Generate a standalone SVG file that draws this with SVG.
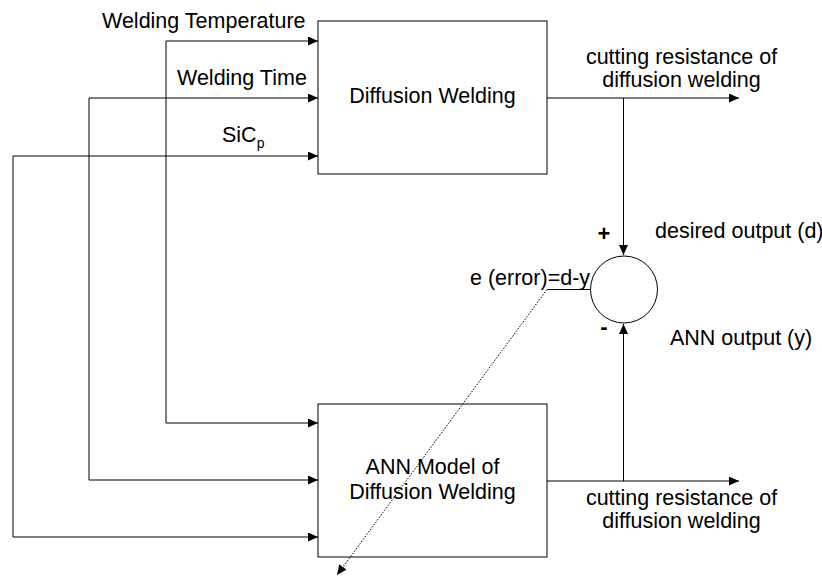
<svg xmlns="http://www.w3.org/2000/svg" width="822" height="577" viewBox="0 0 822 577">
<style>
text{font-family:"Liberation Sans",Arial,sans-serif;font-size:21.5px;fill:#000}
.mid{text-anchor:middle}
.sign{font-weight:bold;font-size:22px}
.box{fill:#fff;stroke:#000;stroke-width:1}
.ln{fill:none;stroke:#000;stroke-width:1}
.dot{fill:none;stroke:#000;stroke-width:1;stroke-dasharray:1.5 1.5}
</style>
<defs>
<marker id="arr" markerUnits="userSpaceOnUse" markerWidth="10" markerHeight="9" refX="10" refY="4.5" orient="auto">
<path d="M0,0 L10,4.5 L0,9 z" fill="#000"/>
</marker>
</defs>
<rect width="822" height="577" fill="#fff"/>
<g id="diffusion-welding">
<rect class="box" x="318" y="21" width="229" height="153"/>
<text class="mid" x="432.5" y="103">Diffusion Welding</text>
</g>
<g id="ann-model">
<rect class="box" x="318" y="404" width="229" height="153"/>
<text class="mid" x="432.5" y="474">ANN Model of</text>
<text class="mid" x="432.5" y="499">Diffusion Welding</text>
</g>
<g id="summing-junction">
<circle class="box" cx="624" cy="289.5" r="33.5"/>
</g>
<g id="connectors">
<path class="ln" d="M166,41 H318" marker-end="url(#arr)"/>
<path class="ln" d="M166,41 V423 H318" marker-end="url(#arr)"/>
<path class="ln" d="M89,98 H318" marker-end="url(#arr)"/>
<path class="ln" d="M89,98 V480 H318" marker-end="url(#arr)"/>
<path class="ln" d="M13,156 H318" marker-end="url(#arr)"/>
<path class="ln" d="M13,156 V537 H318" marker-end="url(#arr)"/>
<path class="ln" d="M547,98 H739" marker-end="url(#arr)"/>
<path class="ln" d="M623.5,98 V255" marker-end="url(#arr)"/>
<path class="ln" d="M547,481 H739" marker-end="url(#arr)"/>
<path class="ln" d="M623.5,481 V324" marker-end="url(#arr)"/>
<path class="ln" d="M590,289.5 H547"/>
<path class="dot" d="M547,289.5 L337,575" marker-end="url(#arr)"/>
</g>
<g id="labels">
<text x="102" y="28">Welding Temperature</text>
<text x="177" y="85">Welding Time</text>
<text x="222" y="142">SiC<tspan font-size="14" dy="6">p</tspan></text>
<text class="mid" x="681.5" y="64">cutting resistance of</text>
<text class="mid" x="681.5" y="87">diffusion welding</text>
<text class="mid sign" x="604" y="241">+</text>
<text class="mid sign" x="604" y="334">-</text>
<text x="655" y="238" font-size="20.5">desired output (d)</text>
<text x="670" y="345">ANN output (y)</text>
<text x="470" y="285">e (error)=d-y</text>
<text class="mid" x="681.5" y="505">cutting resistance of</text>
<text class="mid" x="681.5" y="528">diffusion welding</text>
</g>
</svg>
